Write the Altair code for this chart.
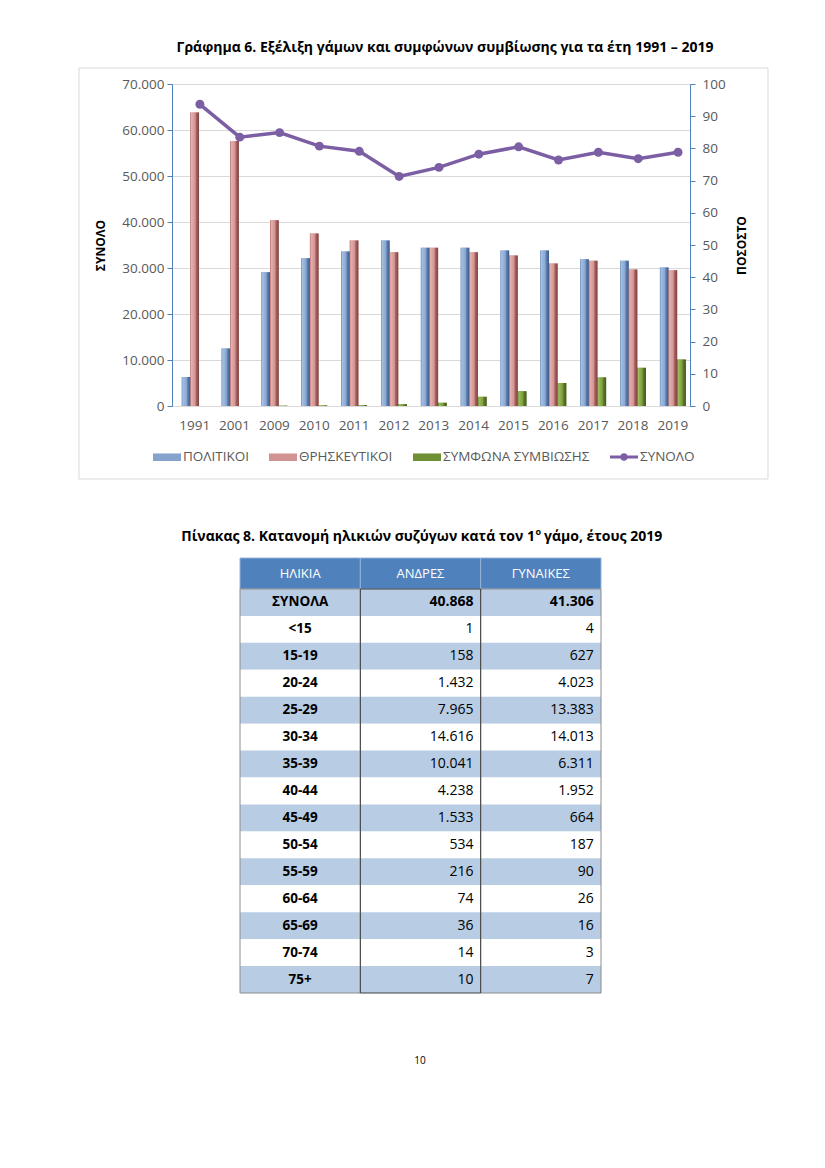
import altair as alt
import pandas as pd

FONT = "Open Sans"

# ---------------- chart data ----------------
years = ["1991", "2001", "2009", "2010", "2011", "2012", "2013",
         "2014", "2015", "2016", "2017", "2018", "2019"]
series = ["ΠΟΛΙΤΙΚΟΙ", "ΘΡΗΣΚΕΥΤΙΚΟΙ", "ΣΥΜΦΩΝΑ ΣΥΜΒΙΩΣΗΣ"]
civil = [6300, 12500, 29100, 32100, 33600, 36000, 34400, 34400, 33800, 33800, 31900, 31600, 30100]
religious = [63800, 57600, 40400, 37500, 36000, 33400, 34400, 33400, 32700, 31000, 31600, 29700, 29500]
pacts = [0, 0, 60, 120, 180, 380, 700, 2000, 3200, 5000, 6200, 8300, 10100]
line_label = "ΣΥΝΟΛΟ"
total_pct = [93.7, 83.5, 84.9, 80.7, 79.1, 71.3, 74.1, 78.2, 80.5, 76.4, 78.8, 76.8, 78.8]
left_ticks = [0, 10000, 20000, 30000, 40000, 50000, 60000, 70000]
right_ticks = [0, 10, 20, 30, 40, 50, 60, 70, 80, 90, 100]

chart_title = "Γράφημα 6. Εξέλιξη γάμων και συμφώνων συμβίωσης για τα έτη 1991 – 2019"

# ---------------- table data ----------------
table_cols = ["ΗΛΙΚΙΑ", "ΑΝΔΡΕΣ", "ΓΥΝΑΙΚΕΣ"]
age_groups = ["ΣΥΝΟΛΑ", "<15", "15-19", "20-24", "25-29", "30-34", "35-39", "40-44",
              "45-49", "50-54", "55-59", "60-64", "65-69", "70-74", "75+"]
men = [40868, 1, 158, 1432, 7965, 14616, 10041, 4238, 1533, 534, 216, 74, 36, 14, 10]
women = [41306, 4, 627, 4023, 13383, 14013, 6311, 1952, 664, 187, 90, 26, 16, 3, 7]
table_title_a = "Πίνακας 8. Κατανομή ηλικιών συζύγων κατά τον 1"
table_title_sup = "ο"
table_title_b = "γάμο, έτους 2019"
page_number = "10"

# ---------------- frames ----------------
bars_df = pd.DataFrame({
    "year": years * 3,
    "series": [s for s in series for _ in years],
    "value": civil + religious + pacts,
})
line_df = pd.DataFrame({"year": years, "pct": total_pct, "label": line_label})
one = pd.DataFrame({"k": [0]})

hdr_df = pd.DataFrame({"col": table_cols, "row": "h"})
body_df = pd.DataFrame({"age": age_groups, "ΑΝΔΡΕΣ": men, "ΓΥΝΑΙΚΕΣ": women,
                        "i": list(range(len(age_groups)))})
cells_df = pd.DataFrame([{"age": a, "col": c, "i": i}
                         for i, a in enumerate(age_groups) for c in table_cols])
colbox_df = pd.DataFrame({"col": table_cols, "order": [0, 2, 1]}).sort_values("order")

W, H = 518, 322
PURPLE = "#7B5EA3"
LABEL_C = "#595959"


def grad(stops):
    return alt.Gradient(gradient="linear", x1=0, y1=0, x2=1, y2=0,
                        stops=[alt.GradientStop(offset=o, color=c) for o, c in stops])


grads = [
    grad([(0, "#6A8AB8"), (0.12, "#A6BFE2"), (0.55, "#88A7D2"), (0.7, "#5C7DAD"), (1, "#3D5B88")]),
    grad([(0, "#B06A68"), (0.12, "#E6B0AE"), (0.55, "#D29492"), (0.7, "#A6605E"), (1, "#7C4341")]),
    grad([(0, "#587828"), (0.12, "#9CBC5A"), (0.55, "#7E9E3F"), (0.7, "#5D792B"), (1, "#42591D")]),
]
flat = ["#86A3CE", "#D29492", "#6F8F36"]


def x_scale():
    return alt.Scale(domain=years, paddingInner=0.35, paddingOuter=0.175, align=0.7)


x_axis = alt.X("year:N", sort=years, scale=x_scale(),
               axis=alt.Axis(title=None, labelAngle=0, ticks=False, domain=False,
                             labelFont=FONT, labelFontSize=13.5, labelColor=LABEL_C,
                             labelPadding=12))
x_plain = alt.X("year:N", sort=years, scale=x_scale(), axis=None)
xoff = alt.XOffset("series:N", sort=series,
                   scale=alt.Scale(domain=series, paddingInner=0, paddingOuter=0))

yl_scale = alt.Scale(domain=[0, 70000], nice=False)
yl_axis = alt.Axis(values=left_ticks,
                   labelExpr="replace(format(datum.value, ','), ',', '.')",
                   title="ΣΥΝΟΛΟ", titleFont=FONT, titleFontSize=12, titleFontWeight="bold",
                   titleColor="#000000", titleAngle=270, titleX=-72, titleBaseline="middle",
                   domainColor="#4F81BD", tickColor="#4F81BD", tickSize=5,
                   grid=True, gridColor="#D9D9D9",
                   labelFont=FONT, labelFontSize=13.5, labelColor=LABEL_C, labelPadding=3)

bars_base = alt.Chart(bars_df).mark_bar().encode(
    x=x_axis, xOffset=xoff,
    y=alt.Y("value:Q", scale=yl_scale, axis=yl_axis),
    color=alt.Color("series:N", scale=alt.Scale(domain=series, range=flat),
                    legend=alt.Legend(orient="none", legendX=-19, legendY=359,
                                      direction="horizontal", title=None,
                                      symbolType="M-1,-0.27H1V0.27H-1Z", symbolSize=784,
                                      symbolStrokeWidth=0,
                                      labelFont=FONT, labelFontSize=13.5, labelColor=LABEL_C,
                                      labelOffset=2, columnPadding=20)),
)
overlays = [
    alt.Chart(bars_df).transform_filter(alt.datum.series == s).mark_bar(fill=g).encode(
        x=x_plain, xOffset=xoff, y=alt.Y("value:Q", scale=yl_scale, axis=None))
    for s, g in zip(series, grads)
]

yr_scale = alt.Scale(domain=[0, 100], nice=False)
yr_axis = alt.Axis(orient="right", values=right_ticks, title="ΠΟΣΟΣΤΟ",
                   titleFont=FONT, titleFontSize=12, titleFontWeight="bold",
                   titleColor="#000000", titleAngle=270, titleX=51, titleBaseline="middle",
                   domainColor="#4F81BD", tickColor="#4F81BD", tickSize=5, grid=False,
                   labelFont=FONT, labelFontSize=13.5, labelColor=LABEL_C, labelPadding=7)

line = alt.Chart(line_df).mark_line(color=PURPLE, strokeWidth=3.5).encode(
    x=x_plain, y=alt.Y("pct:Q", scale=yr_scale, axis=yr_axis))
pts = alt.Chart(line_df).mark_point(filled=True, size=80, opacity=1, strokeWidth=0).encode(
    x=x_plain, y=alt.Y("pct:Q", scale=yr_scale, axis=None),
    fill=alt.Fill("label:N", scale=alt.Scale(domain=[line_label], range=[PURPLE]),
                  legend=alt.Legend(orient="none", legendX=438, legendY=359, title=None,
                                    symbolType="M-1,-0.1H1V0.1H-1Z M0.27,0A0.27,0.27,0,1,1,-0.27,0A0.27,0.27,0,1,1,0.27,0Z",
                                    symbolSize=784, symbolStrokeWidth=0,
                                    labelFont=FONT, labelFontSize=13.5, labelColor=LABEL_C,
                                    labelOffset=2)))

frame = alt.Chart(one).mark_rect(fillOpacity=0, stroke="#D9D9D9", strokeWidth=1).encode(
    x=alt.value(-93), x2=alt.value(596), y=alt.value(-16), y2=alt.value(395))

title1 = alt.Chart(one).mark_text(text=chart_title, font=FONT, fontSize=14, fontWeight="bold",
                                  color="#000000", align="center", baseline="middle").encode(
    x=alt.value(273), y=alt.value(-36))

# ---------------- table ----------------
def xt_scale():
    return alt.Scale(domain=table_cols, range=[68, 429], paddingInner=0, paddingOuter=0)


def yb_enc():
    return alt.Y("age:N", sort=age_groups,
                 scale=alt.Scale(domain=age_groups, range=[505, 909], paddingInner=0, paddingOuter=0),
                 axis=None)


def yh_enc():
    return alt.Y("row:N", scale=alt.Scale(domain=["h"], range=[474, 505], paddingInner=0, paddingOuter=0),
                 axis=None)


xt = alt.X("col:N", sort=table_cols, scale=xt_scale(), axis=None)

hdr_rect = alt.Chart(hdr_df).mark_rect(fill="#4F81BD", stroke="#95B3D7", strokeWidth=1).encode(
    x=xt, y=yh_enc())
hdr_text = alt.Chart(hdr_df).mark_text(font=FONT, fontSize=13, color="#FFFFFF",
                                       baseline="middle").encode(x=xt, y=yh_enc(), text="col:N")

cell_rect = alt.Chart(cells_df).mark_rect().encode(
    x=xt, y=yb_enc(),
    fill=alt.condition("datum.i % 2 == 0", alt.value("#B8CCE4"), alt.value("#FFFFFF")))
col_box = alt.Chart(colbox_df).mark_rect(fillOpacity=0, strokeWidth=1).encode(
    x=xt, y=alt.value(505), y2=alt.value(909),
    stroke=alt.condition("datum.col == 'ΑΝΔΡΕΣ'", alt.value("#404040"), alt.value("#8C8C8C")))
age_text = alt.Chart(body_df).transform_calculate(col="'ΗΛΙΚΙΑ'").mark_text(
    font=FONT, fontSize=13.5, fontWeight="bold", color="#000000", baseline="middle").encode(
    x=xt, y=yb_enc(), text="age:N")
num_base = alt.Chart(body_df).transform_fold(["ΑΝΔΡΕΣ", "ΓΥΝΑΙΚΕΣ"], as_=["col", "v"]).transform_calculate(
    lab="replace(format(datum.v, ','), ',', '.')")
num_total = num_base.transform_filter("datum.i == 0").mark_text(
    font=FONT, fontSize=14, fontWeight="bold", color="#000000", align="right", dx=53,
    baseline="middle").encode(x=xt, y=yb_enc(), text="lab:N")
num_rest = num_base.transform_filter("datum.i > 0").mark_text(
    font=FONT, fontSize=14, color="#000000", align="right", dx=53,
    baseline="middle").encode(x=xt, y=yb_enc(), text="lab:N")

t2a = alt.Chart(one).mark_text(text=table_title_a, font=FONT, fontSize=14, fontWeight="bold",
                               color="#000000", align="right", baseline="middle").encode(
    x=alt.value(363), y=alt.value(453))
t2s = alt.Chart(one).mark_text(text=table_title_sup, font=FONT, fontSize=9, fontWeight="bold",
                               color="#000000", align="left", baseline="middle").encode(
    x=alt.value(363.5), y=alt.value(448))
t2b = alt.Chart(one).mark_text(text=table_title_b, font=FONT, fontSize=14, fontWeight="bold",
                               color="#000000", align="left", baseline="middle").encode(
    x=alt.value(372), y=alt.value(453))
pnum = alt.Chart(one).mark_text(text=page_number, font=FONT, fontSize=10, color="#000000",
                                align="center", baseline="middle").encode(
    x=alt.value(248), y=alt.value(977))

chart = alt.layer(
    frame, bars_base, *overlays, line, pts, title1,
    hdr_rect, hdr_text, cell_rect, col_box, age_text, num_total, num_rest,
    t2a, t2s, t2b, pnum,
).resolve_scale(
    x="independent", y="independent", xOffset="independent"
).properties(
    width=W, height=H,
    padding={"left": 164, "top": 76, "right": 127, "bottom": 760},
    autosize=alt.AutoSizeParams(type="none"),
    background="#FFFFFF",
).configure_view(strokeWidth=0).configure(font=FONT)

chart.save("out.html", embed_options={"renderer": "svg", "actions": False})
